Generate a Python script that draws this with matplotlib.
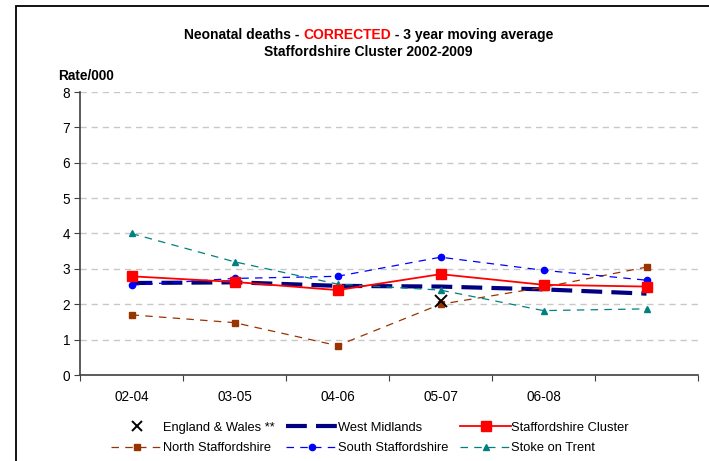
import numpy as np
import matplotlib
matplotlib.use("Agg")
import matplotlib.pyplot as plt
from matplotlib.patches import Rectangle
from matplotlib.lines import Line2D

plt.rcParams['font.family'] = ['Liberation Sans', 'DejaVu Sans']

categories = ['02-04', '03-05', '04-06', '05-07', '06-08', '']
england_wales = [np.nan, np.nan, np.nan, 2.1, np.nan, np.nan]
west_midlands = [2.6, 2.62, 2.52, 2.5, 2.42, 2.3]
staffs_cluster = [2.79, 2.63, 2.4, 2.85, 2.55, 2.5]
north_staffs = [1.7, 1.48, 0.83, 2.0, 2.48, 3.05]
south_staffs = [2.54, 2.73, 2.79, 3.33, 2.96, 2.68]
stoke = [4.0, 3.2, 2.57, 2.4, 1.82, 1.87]

W, H = 709, 461
fig = plt.figure(figsize=(W / 100, H / 100), dpi=100)
ax = fig.add_axes([80 / W, 1 - 375 / H, (698 - 80) / W, (375 - 92) / H])

x = np.arange(len(categories))

ax.plot(x, west_midlands, color='#000080', lw=3.0, dashes=(5, 2.2), zorder=3)
ax.plot(x, staffs_cluster, color='#FF0000', lw=1.3, marker='s', ms=7.5, zorder=5)
ax.plot(x, north_staffs, color='#993300', lw=0.9, dashes=(6, 5), marker='s', ms=4.5, zorder=4)
ax.plot(x, south_staffs, color='#0000FF', lw=0.9, dashes=(6, 5), marker='o', ms=4.5, zorder=4)
ax.plot(x, stoke, color='#008080', lw=0.9, dashes=(6, 5), marker='^', ms=5, zorder=4)
ax.plot(x, england_wales, color='black', lw=0, marker='x', ms=9, mew=1.4, zorder=6)

ax.set_ylim(0, 8)
ax.set_xlim(-0.5, len(categories) - 0.5)
ax.set_yticks(range(0, 9))
ax.yaxis.grid(True, color='#C8C8C8', lw=1.0, dashes=(4.5, 3.5))
ax.set_axisbelow(True)
ax.set_xticks(np.arange(-0.5, len(categories), 1.0))
ax.set_xticklabels([])
ax.set_xticks(x, minor=True)
ax.set_xticklabels(categories, minor=True)
ax.tick_params(axis='x', which='minor', length=0, pad=11, labelsize=9.8)
ax.tick_params(axis='x', which='major', length=4, direction='out', color='#404040')
ax.tick_params(axis='y', length=4, direction='out', labelsize=9.8, color='#404040', pad=3)
for s in ['top', 'right']:
    ax.spines[s].set_visible(False)
for s in ['left', 'bottom']:
    ax.spines[s].set_color('#404040')
    ax.spines[s].set_linewidth(1.2)

# Title with red CORRECTED
t1 = fig.text(186 / W, 1 - 35 / H, "Neonatal deaths - ", fontsize=10, fontweight='bold', ha='left', va='center')
t2 = fig.text(0, 0, "CORRECTED", fontsize=10, fontweight='bold', color='#FF0000', ha='left', va='center')
t3 = fig.text(0, 0, " - 3 year moving average", fontsize=10, fontweight='bold', ha='left', va='center')
fig.canvas.draw()
r = fig.canvas.get_renderer()
b1 = t1.get_window_extent(r)
b2w = t2.get_window_extent(r).width
b3w = t3.get_window_extent(r).width
total = b1.width + b2w + b3w
start = 369 - total / 2
t1.set_x(start / W)
t2.set_position(((start + b1.width) / W, 1 - 35 / H))
t3.set_position(((start + b1.width + b2w) / W, 1 - 35 / H))
fig.text(368 / W, 1 - 52 / H, "Staffordshire Cluster 2002-2009", fontsize=10, fontweight='bold', ha='center', va='center')
fig.text(58 / W, 1 - 76 / H, "Rate/000", fontsize=9.8, fontweight='bold', ha='left', va='center')

# Border
fig.patches.append(Rectangle((16 / W, -0.1), 1.2, 1 - 6 / H + 0.1, transform=fig.transFigure,
                             fill=False, edgecolor='black', lw=1.3, clip_on=False))

handles = [
    Line2D([], [], color='black', lw=0, marker='x', ms=7, mew=1.4),
    Line2D([], [], color='#993300', lw=0.9, dashes=(6, 5), marker='s', ms=4.5),
    Line2D([], [], color='#000080', lw=3.0, dashes=(5, 2.2)),
    Line2D([], [], color='#0000FF', lw=0.9, dashes=(6, 5), marker='o', ms=4.5),
    Line2D([], [], color='#FF0000', lw=1.3, marker='s', ms=7.5),
    Line2D([], [], color='#008080', lw=0.9, dashes=(6, 5), marker='^', ms=5),
]
labels = ['England & Wales **', 'North Staffordshire', 'West Midlands',
          'South Staffordshire', 'Staffordshire Cluster', 'Stoke on Trent']
fig.legend(handles, labels, ncol=3, loc='center', bbox_to_anchor=(370 / W, 1 - 438 / H),
           frameon=False, fontsize=9.3, handlelength=4.0, handletextpad=0.0,
           columnspacing=0.9, labelspacing=0.65, numpoints=1, borderpad=0.2)

fig.savefig('out.png', dpi=100)
